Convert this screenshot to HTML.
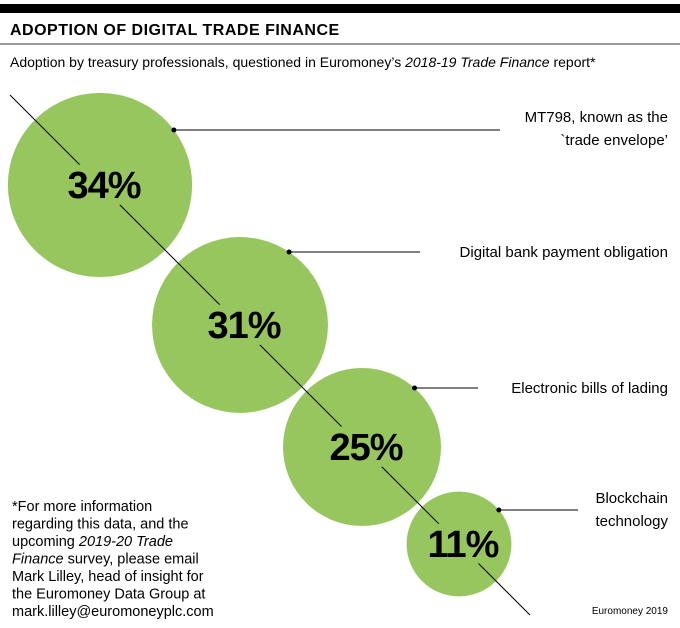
<!DOCTYPE html>
<html><head><meta charset="utf-8"><style>
body{margin:0;background:#fff;width:680px;height:623px;overflow:hidden;font-family:"Liberation Sans",sans-serif}
svg text{font-family:"Liberation Sans",sans-serif}
</style></head><body>
<svg width="680" height="623">
<rect x="0" y="4" width="680" height="9" fill="#000"/>
<text x="10" y="35" font-size="16" font-weight="bold" letter-spacing="0.5">ADOPTION OF DIGITAL TRADE FINANCE</text>
<rect x="0" y="43" width="680" height="2" fill="#999"/>
<text x="10" y="67" font-size="14">Adoption by treasury professionals, questioned in Euromoney’s <tspan font-style="italic">2018-19 Trade Finance</tspan> report*</text>
<g id="bubbles"></g>
<g font-size="14.5">
<text x="12" y="511">*For more information</text>
<text x="12" y="528.5">regarding this data, and the</text>
<text x="12" y="546">upcoming <tspan font-style="italic">2019-20 Trade</tspan></text>
<text x="12" y="563.5"><tspan font-style="italic">Finance</tspan> survey, please email</text>
<text x="12" y="581">Mark Lilley, head of insight for</text>
<text x="12" y="598.5">the Euromoney Data Group at</text>
<text x="12" y="616">mark.lilley@euromoneyplc.com</text>
</g>
<text x="668" y="614" font-size="10" text-anchor="end">Euromoney 2019</text>
</svg>
<script>
const categories=[["MT798, known as the","`trade envelope’"],["Digital bank payment obligation"],["Electronic bills of lading"],["Blockchain","technology"]];
const values=[34,31,25,11];
const ns="http://www.w3.org/2000/svg";
const g=document.getElementById('bubbles');
const centersX=[100,240,362,459];
const leaderY=[130,252,388,510];
const leaderEnd=[500,420,478,578];
function rScale(v){return 15.8*Math.sqrt(v);}
function yOf(x){return x+85;}
function mk(t,a){const e=document.createElementNS(ns,t);for(const k in a)e.setAttribute(k,a[k]);return e;}
values.forEach((v,i)=>{
  const cx=centersX[i],cy=yOf(cx),r=rScale(v);
  const c=mk('circle',{cx:cx,cy:cy,r:r,fill:'#97c65e'});
  
  
  g.appendChild(c);
});
const diag=mk('line',{x1:10,y1:95,x2:530,y2:615,stroke:'#000','stroke-width':1});


g.appendChild(diag);
values.forEach((v,i)=>{
  const cx=centersX[i],cy=yOf(cx),r=rScale(v);
  const t=mk('text',{x:cx+4,y:cy+13,'font-size':38,'font-weight':'bold','text-anchor':'middle','letter-spacing':'-1',stroke:'#97c65e','stroke-width':14,'paint-order':'stroke','stroke-linejoin':'round'});
  t.textContent=v+'%';
  
  
  g.appendChild(t);
  const ly=leaderY[i];
  const dx=cx+Math.sqrt(Math.max(0,r*r-(ly-cy)*(ly-cy)));
  const dot=mk('circle',{cx:dx,cy:ly,r:2.5,fill:'#000'});
  
  
  g.appendChild(dot);
  const l=mk('line',{x1:dx,y1:ly,x2:leaderEnd[i],y2:ly,stroke:'#000','stroke-width':1});
  
  
  g.appendChild(l);
  const lines=categories[i];
  lines.forEach((s,j)=>{
    const y=lines.length===1?ly+5:ly-7+j*23-(i===0?1:0);
    const tt=mk('text',{x:668,y:y,'font-size':15,'text-anchor':'end'});
    tt.textContent=s;
    
    
    g.appendChild(tt);
  });
});
</script>
</body></html>
